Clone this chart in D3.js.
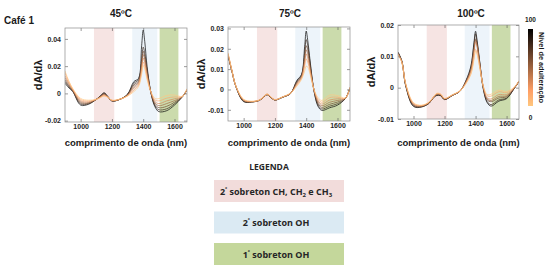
<!DOCTYPE html>
<html>
<head>
<meta charset="utf-8">
<script src="https://cdn.jsdelivr.net/npm/d3@7"></script>
<style>
  html, body { margin: 0; padding: 0; background: #fff; }
  svg { display: block; font-family: "Liberation Sans", Arial, sans-serif; }
  .tick text { font-size: 7px; font-weight: bold; fill: #262626; }
  .tick line { stroke: #555; stroke-width: 0.6; }
  .frame { fill: none; stroke: #8c8c8c; stroke-width: 0.7; }
  .spectrum { fill: none; stroke-width: 0.8; }
  .legend-text { font-family: "Open Sans", sans-serif; font-weight: 700; fill: #262626; }
</style>
</head>
<body>
<svg id="chart"></svg>
<script>
const WIDTH = 550;
const HEIGHT = 269;

// wavelength grid (nm) shared by every spectrum
const WAVELENGTHS = [900, 925, 950, 1000, 1050, 1100, 1125, 1150, 1175, 1200, 1250, 1300, 1340,
  1370, 1390, 1400, 1410, 1425, 1450, 1475, 1500, 1550, 1600, 1650, 1680];

// adulteration levels (%) of the spectra, one row per level below
const LEVELS = [0, 17, 33, 50, 67, 83, 100];

// dA/dλ x 1000, rows follow LEVELS
const SPECTRA_45 = [
  [16.5, 9.0, 3.5, -3.7, -5.0, -4.4, -3.2, -2.0, -3.0, -5.0, -4.2, -2.0, 1.3, 5.0, 14.0, 20.5, 18.0, 10.0, 1.0, -3.7, -3.8, -1.5, -1.2, -2.2, 3.5],
  [15.0, 8.5, 3.0, -4.5, -5.6, -4.4, -3.0, -1.6, -2.9, -5.1, -4.3, -1.8, 2.5, 6.0, 16.0, 23.0, 20.0, 11.5, 0.8, -4.8, -5.5, -3.5, -2.6, -2.3, 3.2],
  [13.0, 7.5, 2.6, -5.4, -6.2, -4.4, -2.8, -1.2, -2.8, -5.2, -4.3, -1.5, 3.8, 7.0, 18.5, 26.0, 22.5, 13.0, 0.6, -6.0, -7.5, -5.5, -4.0, -2.4, 3.0],
  [11.5, 6.5, 2.2, -6.2, -6.8, -4.4, -2.6, -0.8, -2.7, -5.3, -4.3, -1.2, 5.0, 8.0, 20.5, 28.5, 25.0, 14.5, 0.5, -7.0, -9.0, -7.5, -5.3, -2.5, 2.8],
  [10.0, 5.5, 1.9, -7.0, -7.2, -4.4, -2.4, -0.4, -2.6, -5.4, -4.4, -1.0, 6.2, 9.0, 22.5, 31.0, 27.0, 16.0, 0.4, -8.0, -10.5, -9.5, -6.5, -2.5, 2.6],
  [8.8, 4.8, 1.6, -7.8, -7.6, -4.4, -2.2, 0.0, -2.5, -5.5, -4.4, -0.8, 7.4, 10.0, 25.0, 34.0, 29.5, 17.5, 0.2, -9.0, -12.0, -11.3, -7.6, -2.6, 2.5],
  [7.5, 4.0, 1.3, -8.6, -8.0, -4.4, -2.0, 0.5, -2.5, -5.6, -4.4, -0.5, 8.6, 11.0, 35.0, 46.5, 38.0, 19.6, 0.0, -9.8, -13.4, -12.7, -8.6, -2.6, 2.4],
];

const SPECTRA_75 = [
  [18.0, 9.5, 1.8, -4.8, -5.8, -5.2, -3.8, -2.2, -3.7, -5.0, -3.6, -1.8, 1.6, 4.9, 9.0, 11.5, 11.0, 7.4, 0.0, -4.0, -5.4, -2.8, -3.0, -4.2, 1.0],
  [17.8, 9.4, 1.8, -5.0, -5.9, -5.2, -3.8, -2.3, -3.8, -5.0, -3.6, -1.8, 2.1, 5.4, 11.5, 15.0, 13.5, 8.5, -0.1, -4.8, -6.3, -4.0, -3.8, -4.3, 1.0],
  [17.5, 9.3, 1.7, -5.2, -6.0, -5.3, -3.9, -2.3, -3.8, -5.1, -3.7, -1.9, 2.6, 5.8, 13.0, 17.5, 15.5, 9.5, -0.2, -5.5, -7.2, -5.2, -4.6, -4.3, 0.9],
  [17.3, 9.2, 1.7, -5.4, -6.0, -5.3, -3.9, -2.4, -3.9, -5.1, -3.7, -1.9, 3.1, 6.2, 14.5, 19.5, 17.5, 10.5, -0.3, -6.2, -8.0, -6.3, -5.4, -4.4, 0.9],
  [17.0, 9.1, 1.6, -5.6, -6.1, -5.3, -3.9, -2.5, -3.9, -5.1, -3.7, -1.9, 3.5, 6.6, 16.0, 21.5, 19.5, 11.5, -0.4, -6.9, -8.8, -7.3, -6.2, -4.4, 0.8],
  [16.8, 9.0, 1.6, -5.8, -6.1, -5.4, -4.0, -2.5, -4.0, -5.2, -3.8, -2.0, 4.0, 7.0, 18.0, 24.5, 21.5, 12.8, -0.6, -7.6, -9.6, -8.2, -7.0, -4.5, 0.8],
  [16.5, 9.0, 1.5, -6.0, -6.2, -5.4, -4.0, -2.6, -4.0, -5.2, -3.8, -2.0, 4.4, 7.4, 21.0, 28.7, 24.0, 14.0, -0.8, -8.2, -10.3, -9.0, -7.7, -4.5, 0.8],
];

const SPECTRA_100 = [
  [10.6, 8.0, 1.2, -4.8, -5.6, -4.6, -3.2, -1.8, -2.0, -3.4, -2.3, -1.0, 1.4, 4.2, 9.0, 11.7, 10.6, 6.9, 0.5, -2.2, -2.1, -0.8, -1.2, 0.2, 2.2],
  [10.7, 8.1, 1.1, -5.0, -5.7, -4.7, -3.2, -1.9, -2.1, -3.5, -2.3, -1.0, 1.6, 4.6, 9.6, 12.2, 11.0, 7.1, 0.4, -2.6, -2.7, -1.3, -1.6, 0.1, 2.2],
  [10.8, 8.2, 1.0, -5.2, -5.8, -4.7, -3.3, -2.0, -2.2, -3.5, -2.4, -1.0, 1.9, 5.4, 11.5, 14.6, 13.0, 8.0, 0.2, -3.3, -3.6, -2.2, -2.2, 0.0, 2.1],
  [10.9, 8.2, 0.9, -5.4, -5.9, -4.8, -3.3, -2.1, -2.3, -3.6, -2.4, -1.1, 2.0, 5.6, 12.0, 15.2, 13.4, 8.2, 0.1, -3.6, -4.1, -2.8, -2.6, -0.1, 2.1],
  [11.0, 8.3, 0.8, -5.6, -6.0, -4.9, -3.3, -2.2, -2.4, -3.7, -2.4, -1.1, 2.1, 5.8, 12.4, 15.6, 13.8, 8.4, 0.0, -3.9, -4.5, -3.3, -2.9, -0.1, 2.0],
  [11.2, 8.4, 0.6, -5.8, -6.1, -5.0, -3.4, -2.4, -2.5, -3.8, -2.5, -1.1, 2.3, 6.5, 13.8, 17.2, 14.4, 8.8, -0.3, -4.5, -5.4, -3.9, -3.3, -0.2, 2.0],
  [11.4, 8.5, 0.5, -6.0, -6.2, -5.0, -3.4, -2.5, -2.6, -3.8, -2.5, -1.1, 2.5, 6.9, 14.5, 18.0, 15.0, 9.0, -0.5, -4.8, -5.9, -4.3, -3.5, -0.2, 2.0],
];

const PANEL_TITLES = ["45ºC", "75ºC", "100ºC"];
const X_DOMAIN = [900, 1680];
const X_TICKS = [1000, 1200, 1400, 1600];
const Y_DOMAINS = [[-0.021, 0.048], [-0.0155, 0.0307], [-0.01, 0.02]];
const Y_TICKS = [[-0.02, 0, 0.02, 0.04], [-0.01, 0, 0.01, 0.02, 0.03], [-0.01, 0, 0.01, 0.02]];

// overtone regions (nm)
const BAND_RANGES = [[1085, 1215], [1330, 1490], [1505, 1625]];
const LEGEND_TITLE = "LEGENDA";
const COLORBAR_RANGE = [0, 100];
const COLORBAR_LABEL = "Nível de adulteração";

const BAND_FILL = ["#f6e4e3", "#edf4fa", "#cbdbac"];
const LEGEND_FILL = ["#f2dcdb", "#dbeaf3", "#c4d79b"];

// panel frames in px: [left, right, top, bottom]
const PANEL_BOX = [[65, 187, 28, 122], [228, 350, 27, 121], [398, 519, 25, 119]];
const TITLE_X = [121, 290, 471];

const svg = d3.select("#chart").attr("width", WIDTH).attr("height", HEIGHT);

// matlab "copper" map
function copper(t) {
  return d3.rgb(Math.min(1, 1.25 * t) * 255, 0.7812 * t * 255, 0.4975 * t * 255).toString();
}
const levelColor = lvl => copper(1 - lvl / 100);

svg.append("text")
  .attr("x", 4).attr("y", 24)
  .attr("font-size", 10).attr("font-weight", "bold").attr("fill", "#1a1a1a")
  .text("Café 1");

const allSpectra = [SPECTRA_45, SPECTRA_75, SPECTRA_100];

allSpectra.forEach((spectra, p) => {
  const [l, r, t, b] = PANEL_BOX[p];
  const x = d3.scaleLinear(X_DOMAIN, [l, r]);
  const y = d3.scaleLinear(Y_DOMAINS[p], [b, t]);
  const g = svg.append("g");

  g.append("clipPath").attr("id", `clip-${p}`)
    .append("rect").attr("x", l).attr("y", t).attr("width", r - l).attr("height", b - t);

  g.selectAll(".band").data(BAND_RANGES).join("rect")
    .attr("class", "band")
    .attr("x", d => x(d[0])).attr("width", d => x(d[1]) - x(d[0]))
    .attr("y", t).attr("height", b - t)
    .attr("fill", (d, i) => BAND_FILL[i]);

  const line = d3.line()
    .x((d, i) => x(WAVELENGTHS[i]))
    .y(d => y(d / 1000))
    .curve(d3.curveCatmullRom.alpha(0.5));

  // darkest first so the light curves sit on top
  const order = d3.range(LEVELS.length).reverse();
  g.append("g").attr("clip-path", `url(#clip-${p})`)
    .selectAll("path").data(order).join("path")
    .attr("class", "spectrum")
    .attr("d", i => line(spectra[i]))
    .attr("stroke", i => levelColor(LEVELS[i]))
    .attr("stroke-opacity", 0.85);

  const fmt = d => (d === 0 ? "0" : String(d));
  g.append("g").attr("transform", `translate(0,${b})`)
    .call(d3.axisBottom(x).tickValues(X_TICKS).tickSize(-3).tickPadding(2.5).tickFormat(d3.format("d")))
    .call(s => s.select(".domain").remove());
  g.append("g").attr("transform", `translate(0,${t})`)
    .call(d3.axisTop(x).tickValues(X_TICKS).tickSize(-3).tickFormat(""))
    .call(s => s.select(".domain").remove());
  g.append("g").attr("transform", `translate(${l},0)`)
    .call(d3.axisLeft(y).tickValues(Y_TICKS[p]).tickSize(-3).tickPadding(4).tickFormat(fmt))
    .call(s => s.select(".domain").remove());
  g.append("g").attr("transform", `translate(${r},0)`)
    .call(d3.axisRight(y).tickValues(Y_TICKS[p]).tickSize(-3).tickFormat(""))
    .call(s => s.select(".domain").remove());

  g.append("rect").attr("class", "frame")
    .attr("x", l).attr("y", t).attr("width", r - l).attr("height", b - t);

  g.append("text")
    .attr("x", TITLE_X[p]).attr("y", 17)
    .attr("text-anchor", "middle").attr("font-size", 10).attr("font-weight", "bold").attr("fill", "#1a1a1a")
    .text(PANEL_TITLES[p]);

  g.append("text")
    .attr("transform", `translate(${l - 26},${(t + b) / 2}) rotate(-90)`)
    .attr("text-anchor", "middle").attr("dominant-baseline", "middle")
    .attr("font-size", 11).attr("font-weight", "bold").attr("fill", "#1a1a1a")
    .text("dA/dλ");

  g.append("text")
    .attr("x", (l + r) / 2).attr("y", 146)
    .attr("text-anchor", "middle").attr("font-size", 9.5).attr("font-weight", "bold").attr("fill", "#1a1a1a")
    .text("comprimento de onda (nm)");
});

// colorbar
const defs = svg.append("defs");
const grad = defs.append("linearGradient").attr("id", "copper-grad")
  .attr("x1", 0).attr("y1", 1).attr("x2", 0).attr("y2", 0);
d3.range(0, 1.001, 0.1).forEach(s => {
  grad.append("stop").attr("offset", s).attr("stop-color", copper(1 - s));
});
const cbY = d3.scaleLinear(COLORBAR_RANGE, [106, 29]);
svg.append("rect")
  .attr("x", 528).attr("y", cbY(100)).attr("width", 5).attr("height", cbY(0) - cbY(100))
  .attr("fill", "url(#copper-grad)");
svg.selectAll(".cb-label").data(COLORBAR_RANGE).join("text")
  .attr("class", "cb-label")
  .attr("x", 530.5).attr("y", d => (d === 100 ? cbY(d) - 7 : cbY(d) + 14))
  .attr("text-anchor", "middle").attr("font-size", 6.5).attr("font-weight", "bold").attr("fill", "#1a1a1a")
  .text(d => d);
svg.append("text")
  .attr("transform", `translate(541,${(cbY(0) + cbY(100)) / 2}) rotate(90)`)
  .attr("text-anchor", "middle").attr("dominant-baseline", "middle")
  .attr("font-size", 7.3).attr("font-weight", "bold").attr("fill", "#1a1a1a")
  .text(COLORBAR_LABEL);

// legend
svg.append("text").attr("class", "legend-text")
  .attr("x", 269).attr("y", 170).attr("text-anchor", "middle").attr("font-size", 8.5)
  .text(LEGEND_TITLE);

const legendY = [180, 211.5, 243];
const legendG = svg.selectAll(".legend-item").data(d3.range(3)).join("g").attr("class", "legend-item");
legendG.append("rect")
  .attr("x", 214).attr("y", i => legendY[i]).attr("width", 130).attr("height", 22)
  .attr("fill", i => LEGEND_FILL[i]);

// label parts: [text, shift] where shift "sup"/"sub" marks small raised/lowered glyphs
const LEGEND_LABELS = [
  [["2", ""], ["°", "sup"], [" sobreton CH, CH", ""], ["2", "sub"], [" e CH", ""], ["3", "sub"]],
  [["2", ""], ["°", "sup"], [" sobreton OH", ""]],
  [["1", ""], ["°", "sup"], [" sobreton OH", ""]],
];
legendG.each(function (i) {
  const txt = d3.select(this).append("text").attr("class", "legend-text")
    .attr("x", 276).attr("y", legendY[i] + 14.5).attr("text-anchor", "middle").attr("font-size", 9);
  LEGEND_LABELS[i].forEach(([s, kind]) => {
    const ts = txt.append("tspan").text(s);
    if (kind === "sup") ts.attr("font-size", 5).attr("baseline-shift", "4");
    if (kind === "sub") ts.attr("font-size", 6).attr("baseline-shift", "-2");
  });
});
</script>
</body>
</html>
